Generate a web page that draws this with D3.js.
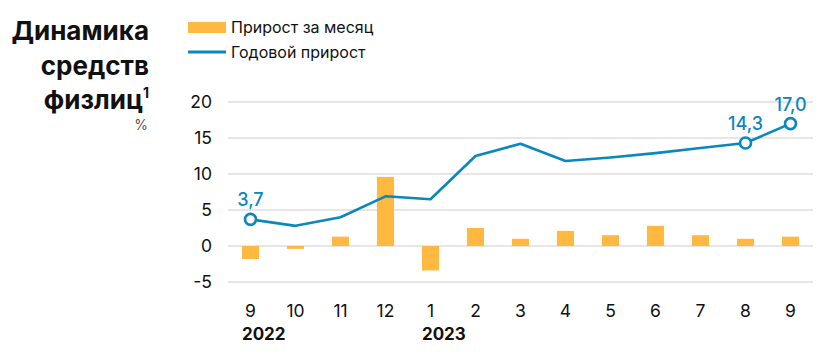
<!DOCTYPE html>
<html>
<head>
<meta charset="utf-8">
<script src="https://cdn.jsdelivr.net/npm/d3@7"></script>
<style>
  body { margin: 0; background: #fff; }
  svg text { font-family: Inter, "Noto Sans", sans-serif; }
</style>
</head>
<body>
<div id="chart"></div>
<script>
var months = ['9', '10', '11', '12', '1', '2', '3', '4', '5', '6', '7', '8', '9'];
var years = [{ idx: 0, label: '2022' }, { idx: 4, label: '2023' }];
var monthly = [-1.8, -0.4, 1.3, 9.6, -3.4, 2.5, 1.0, 2.1, 1.5, 2.8, 1.5, 1.0, 1.3];
var annual = [3.7, 2.8, 4.0, 6.9, 6.5, 12.5, 14.2, 11.8, 12.3, 12.9, 13.6, 14.3, 17.0];
var labelled = [0, 11, 12];
var yTicks = [-5, 0, 5, 10, 15, 20];

var width = 835;
var height = 354;
var barColor = '#ffb940';
var lineColor = '#0a88bd';

var svg = d3.select('#chart')
    .append('svg')
        .attr('width', width)
        .attr('height', height);

var x = d3.scaleBand()
    .domain(d3.range(months.length))
    .range([228, 813])
    .paddingInner(0.62)
    .paddingOuter(0.31);

var y = d3.scaleLinear()
    .domain([-5, 20])
    .range([282, 102]);

// grid
svg.append('g')
    .selectAll('line')
    .data(yTicks)
    .enter()
    .append('line')
        .attr('x1', 228)
        .attr('x2', 813)
        .attr('y1', d => y(d))
        .attr('y2', d => y(d))
        .attr('stroke', '#e6e6e6')
        .attr('stroke-width', 2);

svg.append('g')
    .selectAll('text')
    .data(yTicks)
    .enter()
    .append('text')
        .attr('x', 212)
        .attr('y', d => y(d) + 6)
        .attr('text-anchor', 'end')
        .attr('font-size', 17.5)
        .attr('fill', '#111')
        .text(d => d);

// bars
svg.append('g')
    .selectAll('rect')
    .data(monthly)
    .enter()
    .append('rect')
        .attr('x', (d, i) => x(i))
        .attr('width', x.bandwidth())
        .attr('y', d => y(Math.max(0, d)))
        .attr('height', d => Math.abs(y(d) - y(0)))
        .attr('fill', barColor);

// line
var cx = i => x(i) + x.bandwidth() / 2;

var line = d3.line()
    .x((d, i) => cx(i))
    .y(d => y(d));

svg.append('path')
    .datum(annual)
    .attr('d', line)
    .attr('fill', 'none')
    .attr('stroke', lineColor)
    .attr('stroke-width', 2.6)
    .attr('stroke-linejoin', 'round');

svg.append('g')
    .selectAll('circle')
    .data(labelled)
    .enter()
    .append('circle')
        .attr('cx', i => cx(i))
        .attr('cy', i => y(annual[i]))
        .attr('r', 5.5)
        .attr('fill', '#fff')
        .attr('stroke', lineColor)
        .attr('stroke-width', 2.6);

svg.append('g')
    .selectAll('text')
    .data(labelled)
    .enter()
    .append('text')
        .attr('x', i => cx(i))
        .attr('y', i => y(annual[i]) - 13)
        .attr('text-anchor', 'middle')
        .attr('font-size', 18)
        .attr('font-weight', 500)
        .attr('fill', lineColor)
        .text(i => annual[i].toFixed(1).replace('.', ','));

// x labels
svg.append('g')
    .selectAll('text')
    .data(months)
    .enter()
    .append('text')
        .attr('x', (d, i) => cx(i))
        .attr('y', 317)
        .attr('text-anchor', 'middle')
        .attr('font-size', 17.5)
        .attr('fill', '#111')
        .text(d => d);

svg.append('g')
    .selectAll('text')
    .data(years)
    .enter()
    .append('text')
        .attr('x', d => x(d.idx))
        .attr('y', 340)
        .attr('font-size', 17)
        .attr('font-weight', 700)
        .attr('fill', '#111')
        .text(d => d.label);

// title
var title = svg.append('g')
    .attr('font-weight', 700)
    .attr('font-size', 26)
    .attr('fill', '#111')
    .attr('text-anchor', 'end');

title.append('text').attr('x', 149).attr('y', 40).text('Динамика');
title.append('text').attr('x', 149).attr('y', 75).text('средств');
var t3 = title.append('text').attr('x', 149).attr('y', 109);
t3.append('tspan').text('физлиц');
t3.append('tspan').attr('font-size', 14).attr('dy', -11).text('1');

svg.append('text')
    .attr('x', 148)
    .attr('y', 130)
    .attr('text-anchor', 'end')
    .attr('font-size', 14)
    .attr('fill', '#555')
    .text('%');

// legend
var legend = svg.append('g');
legend.append('rect')
    .attr('x', 188)
    .attr('y', 22)
    .attr('width', 38)
    .attr('height', 11)
    .attr('fill', barColor);
legend.append('text')
    .attr('x', 231)
    .attr('y', 33)
    .attr('font-size', 16)
    .attr('fill', '#111')
    .text('Прирост за месяц');
legend.append('line')
    .attr('x1', 188)
    .attr('x2', 226)
    .attr('y1', 52)
    .attr('y2', 52)
    .attr('stroke', lineColor)
    .attr('stroke-width', 3);
legend.append('text')
    .attr('x', 231)
    .attr('y', 58)
    .attr('font-size', 16)
    .attr('fill', '#111')
    .text('Годовой прирост');
</script>
</body>
</html>
